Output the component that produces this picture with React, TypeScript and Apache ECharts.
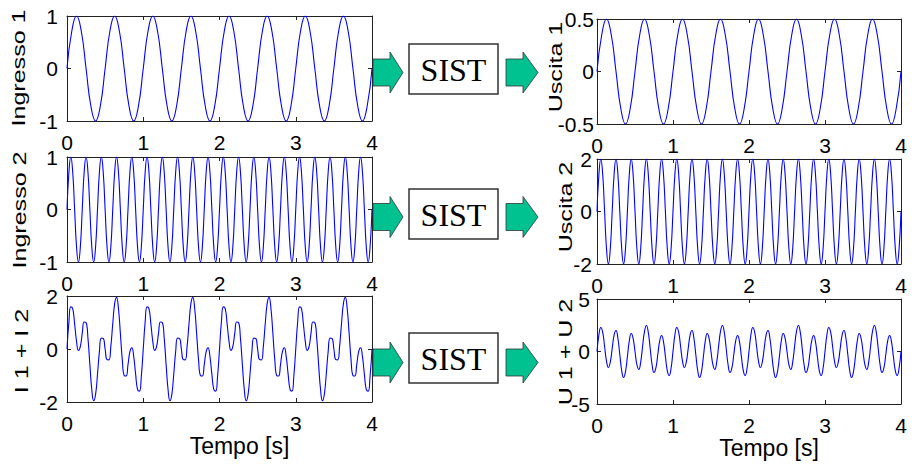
import React, { useEffect, useRef } from "react";
import * as echarts from "echarts";

// ---- data (one cycle per signal, repeated over 0..4 s) ----
const TIME_MIN = 0;
const TIME_MAX = 4;
const TIME_INTERVAL = 1;

// Ingresso 1: 2 Hz, amplitude 1 (one 0.5 s cycle)
const ingresso1Step = 0.0625;
const ingresso1Cycle = [0, 0.71, 1, 0.71, 0, -0.71, -1, -0.71];
// Ingresso 2: 5 Hz, amplitude 1 (one 0.2 s cycle)
const ingresso2Step = 0.025;
const ingresso2Cycle = [0, 0.71, 1, 0.71, 0, -0.71, -1, -0.71];
// I1 + I2 (one 1 s cycle)
const sommaIngressiStep = 0.025;
const sommaIngressiCycle = [
  0, 1.02, 1.59, 1.52, 0.95, 0.29, -0.05, 0.1, 0.59, 1.02,
  1.0, 0.4, -0.59, -1.52, -1.95, -1.71, -0.95, -0.1, 0.41, 0.4,
  0, -0.4, -0.41, 0.1, 0.95, 1.71, 1.95, 1.52, 0.59, -0.4,
  -1.0, -1.02, -0.59, -0.1, 0.05, -0.29, -0.95, -1.52, -1.59, -1.02,
];
// Uscita 1: 2 Hz, amplitude 0.5
const uscita1Step = 0.0625;
const uscita1Cycle = [0, 0.35, 0.5, 0.35, 0, -0.35, -0.5, -0.35];
// Uscita 2: 5 Hz, amplitude 2
const uscita2Step = 0.025;
const uscita2Cycle = [0, 1.41, 2, 1.41, 0, -1.41, -2, -1.41];
// U1 + U2 (one 1 s cycle)
const sommaUsciteStep = 0.025;
const sommaUsciteCycle = [
  0, 1.57, 2.29, 1.82, 0.48, -0.91, -1.52, -1.01, 0.29, 1.57,
  2.0, 1.26, -0.29, -1.82, -2.48, -1.91, -0.48, 1.01, 1.71, 1.26,
  0, -1.26, -1.71, -1.01, 0.48, 1.91, 2.48, 1.82, 0.29, -1.26,
  -2.0, -1.57, -0.29, 1.01, 1.52, 0.91, -0.48, -1.82, -2.29, -1.57,
];

const yNames = ["Ingresso 1", "Ingresso 2", "I 1 + I 2", "Uscita 1", "Uscita 2", "U 1 + U 2"];
const yMins = [-1, -1, -2, -0.5, -2, -5];
const yMaxs = [1, 1, 2, 0.5, 2, 5];
const yIntervals = [1, 1, 2, 0.5, 2, 5];
const xAxisTitle = "Tempo [s]";
const blockLabel = "SIST";

const cycles = [ingresso1Cycle, ingresso2Cycle, sommaIngressiCycle, uscita1Cycle, uscita2Cycle, sommaUsciteCycle];
const steps = [ingresso1Step, ingresso2Step, sommaIngressiStep, uscita1Step, uscita2Step, sommaUsciteStep];

function tile(cycle: number[], step: number): number[][] {
  const out: number[][] = [];
  const n = Math.round((TIME_MAX - TIME_MIN) / step);
  for (let i = 0; i <= n; i++) {
    out.push([+(TIME_MIN + i * step).toFixed(4), cycle[i % cycle.length]]);
  }
  return out;
}

// ---- layout ----
const gridRects = [
  { left: 67, top: 16, width: 305, height: 105 },
  { left: 67, top: 157, width: 305, height: 105 },
  { left: 67, top: 296, width: 305, height: 106 },
  { left: 597, top: 19, width: 304, height: 105 },
  { left: 597, top: 159, width: 304, height: 105 },
  { left: 597, top: 299, width: 304, height: 105 },
];
const yLabelMargins = [9, 9, 9, 3, 5, 7];
const yNamePos = [
  [19, 68],
  [20, 210],
  [22, 351],
  [556, 67],
  [566, 207],
  [566, 352],
];
const rowCenters = [72.5, 217, 362.5];
const boxCenters = [69, 214, 358];

const FONT = "Liberation Sans, Arial, sans-serif";
const AXIS_COLOR = "#222";
const LINE_COLOR = "#0000ff";
const ARROW_FILL = "#00c290";

function arrowPoints(x0: number, xh: number, xt: number, cy: number) {
  return [
    [x0, cy - 13.5],
    [xh, cy - 13.5],
    [xh, cy - 20.5],
    [xt, cy],
    [xh, cy + 20.5],
    [xh, cy + 13.5],
    [x0, cy + 13.5],
  ];
}

export default function App() {
  const ref = useRef<HTMLDivElement>(null);
  useEffect(() => {
    if (!ref.current) return;
    const chart = echarts.init(ref.current, undefined, { renderer: "svg" });
    const grid: any[] = [];
    const xAxis: any[] = [];
    const yAxis: any[] = [];
    const series: any[] = [];
    const graphic: any[] = [];

    for (let i = 0; i < 6; i++) {
      const g = gridRects[i];
      grid.push({ ...g, containLabel: false });
      const isBottom = i === 2 || i === 5;
      const baseX = {
        type: "value",
        gridIndex: i,
        min: TIME_MIN,
        max: TIME_MAX,
        interval: TIME_INTERVAL,
        splitLine: { show: false },
        axisLine: { show: true, onZero: false, lineStyle: { color: AXIS_COLOR, width: 1 } },
        axisTick: { show: true, inside: true, length: 4, lineStyle: { color: AXIS_COLOR } },
      };
      xAxis.push({
        ...baseX,
        position: "bottom",
        axisLabel: { show: true, margin: 11, fontSize: 21, fontFamily: FONT, color: "#000" },
        name: isBottom ? xAxisTitle : "",
        nameLocation: "middle",
        nameGap: 29,
        nameTextStyle: { fontSize: 23, fontFamily: FONT, color: "#000", padding: [0, 0, 0, 40] },
      });
      xAxis.push({ ...baseX, position: "top", axisLabel: { show: false } });
      const baseY = {
        type: "value",
        gridIndex: i,
        min: yMins[i],
        max: yMaxs[i],
        interval: yIntervals[i],
        splitLine: { show: false },
        axisLine: { show: true, onZero: false, lineStyle: { color: AXIS_COLOR, width: 1 } },
        axisTick: { show: true, inside: true, length: 4, lineStyle: { color: AXIS_COLOR } },
      };
      yAxis.push({
        ...baseY,
        position: "left",
        axisLabel: { show: true, margin: yLabelMargins[i], fontSize: 21, fontFamily: FONT, color: "#000" },
      });
      yAxis.push({ ...baseY, position: "right", axisLabel: { show: false } });
      series.push({
        type: "line",
        xAxisIndex: i * 2,
        yAxisIndex: i * 2,
        data: tile(cycles[i], steps[i]),
        showSymbol: false,
        smooth: 0.5,
        lineStyle: { color: LINE_COLOR, width: 1.1 },
        clip: true,
      });
      graphic.push({
        type: "text",
        x: yNamePos[i][0],
        y: yNamePos[i][1],
        rotation: Math.PI / 2,
        scaleX: 1.14,
        scaleY: 0.85,
        style: {
          text: yNames[i],
          font: `22px ${FONT}`,
          fill: "#000",
          align: "center",
          verticalAlign: "middle",
        },
        z: 100,
      });
    }

    for (let r = 0; r < 3; r++) {
      const cy = rowCenters[r];
      graphic.push({
        type: "polygon",
        shape: { points: arrowPoints(373, 390, 403, cy) },
        style: { fill: ARROW_FILL, stroke: "#333", lineWidth: 0.8 },
        z: 90,
      });
      graphic.push({
        type: "polygon",
        shape: { points: arrowPoints(506, 523, 538, cy) },
        style: { fill: ARROW_FILL, stroke: "#333", lineWidth: 0.8 },
        z: 90,
      });
      graphic.push({
        type: "rect",
        shape: { x: 409, y: boxCenters[r] - 25, width: 89, height: 50 },
        style: { fill: "#fff", stroke: "#333", lineWidth: 1.5 },
        z: 90,
      });
      graphic.push({
        type: "text",
        x: 453.5,
        y: boxCenters[r] + 1,
        style: {
          text: blockLabel,
          font: `32px Liberation Serif, Times New Roman, serif`,
          fill: "#000",
          align: "center",
          verticalAlign: "middle",
        },
        z: 91,
      });
    }

    chart.setOption({
      animation: false,
      backgroundColor: "#fff",
      grid,
      xAxis,
      yAxis,
      series,
      graphic,
    });
    return () => chart.dispose();
  }, []);
  return (
    <div
      ref={ref}
      style={{ position: "fixed", left: 0, top: 0, width: 922, height: 466 }}
    />
  );
}
